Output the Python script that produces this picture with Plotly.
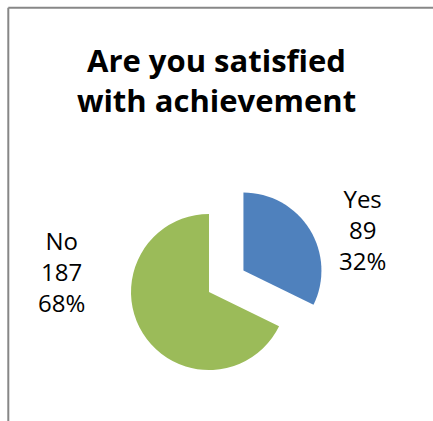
import plotly.graph_objects as go

# Survey answers
answers = ["Yes", "No"]
counts = [89, 187]
slice_colors = ["#4F81BD", "#9BBB59"]
pulls = [0.52, 0.0]

W, H = 433, 421
total = sum(counts)

fig = go.Figure()
fig.add_trace(go.Pie(
    labels=answers,
    values=counts,
    sort=False,
    direction="clockwise",
    rotation=0,
    pull=pulls,
    marker=dict(colors=slice_colors, line=dict(color="white", width=0)),
    textinfo="none",
    hoverinfo="label+value+percent",
    showlegend=False,
    domain=dict(x=[0.2088, 0.7566], y=[0.0247, 0.588]),
))

# Data labels: category, count, share
label_pos = {"Yes": (362, 229), "No": (61, 271.5)}
for name, n in zip(answers, counts):
    px, py = label_pos[name]
    fig.add_annotation(
        x=px / W, y=1 - py / H, xref="paper", yref="paper",
        text=f"{name}<br>{n}<br>{round(100 * n / total)}%",
        showarrow=False, xanchor="center", yanchor="middle", align="center",
        font=dict(family="Open Sans", size=24, color="#000000"),
    )

# Chart frame (top and left edges)
frame = dict(color="#878787", width=2)
fig.add_shape(type="line", xref="paper", yref="paper",
              x0=8.3 / W, y0=1 - 7.7 / H, x1=1.0, y1=1 - 7.7 / H, line=frame)
fig.add_shape(type="line", xref="paper", yref="paper",
              x0=8.3 / W, y0=0.0, x1=8.3 / W, y1=1 - 7.7 / H, line=frame)

fig.update_layout(
    width=W, height=H,
    margin=dict(l=0, r=0, t=0, b=0),
    paper_bgcolor="white", plot_bgcolor="white",
    title=dict(
        text="<b>Are you satisfied<br>with achievement</b>",
        x=0.5, xanchor="center", xref="paper",
        y=1 - 72 / H, yanchor="top", yref="paper",
        font=dict(family="Open Sans", size=31, color="#000000"),
    ),
)

fig.write_html("out.html")
